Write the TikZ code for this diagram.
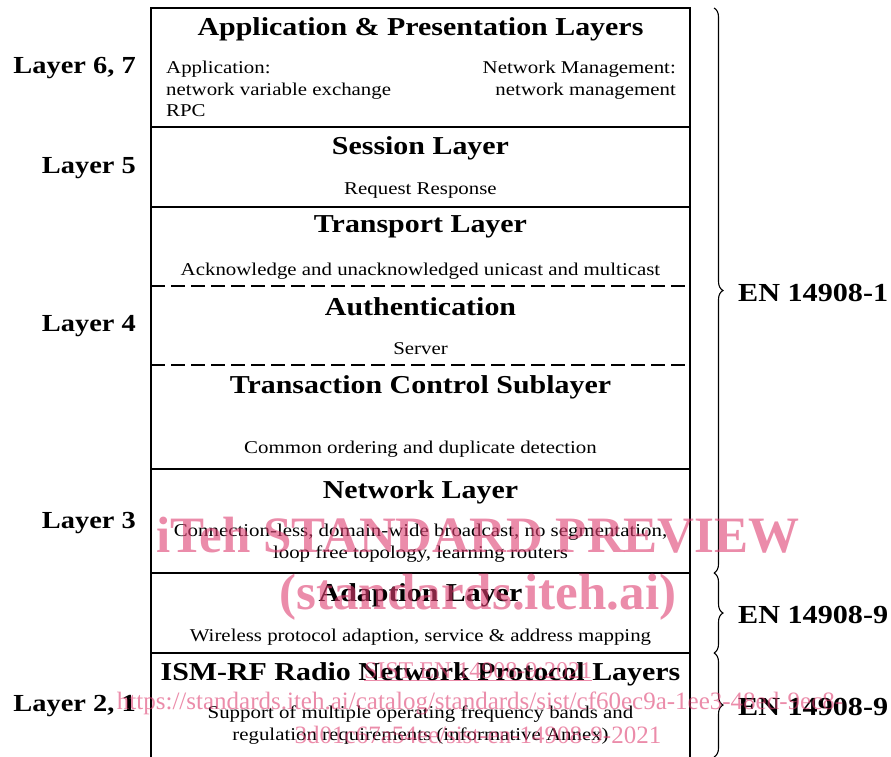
\documentclass[tikz,border=0pt]{standalone}
\usepackage{fontspec}
\setmainfont{Liberation Serif}[FakeStretch=1.16]
\newfontfamily\wmfont{Liberation Serif}
\usepackage{tikz}
\usetikzlibrary{positioning,decorations.pathreplacing}
\definecolor{wmpink}{RGB}{222,63,113}
\tikzset{
    layer/.style={
           rectangle,
           minimum width=539pt,
           inner sep=0pt, outer sep=0pt,
           },
    title/.style={
           font=\bfseries\fontsize{25.8}{28}\selectfont,
           inner sep=0pt,
           },
    desc/.style={
           font=\fontsize{18}{21.5}\selectfont,
           inner sep=0pt,
           align=center,
           },
    side/.style={
           font=\bfseries\fontsize{24.5}{28}\selectfont,
           inner sep=0pt, anchor=east,
           },
    norm/.style={
           font=\bfseries\fontsize{26}{28}\selectfont,
           inner sep=0pt, anchor=west,
           },
    span/.style={
           decorate, decoration={brace, amplitude=9pt},
           line width=1.1pt,
           },
    sep/.style={line width=1.2pt},
    wmark/.style={
           text=wmpink, opacity=0.6, inner sep=0pt,
           },
}

\begin{document}
\begin{tikzpicture}[x=1pt, y=-1pt]
    \useasboundingbox (0,0) rectangle (891,756);

    % the stack of layers (frames only, text is put in below)
    \node[layer, minimum height=119pt, anchor=north] (app) at (420.5,8) {};
    \node[layer, minimum height=80pt,  below=0pt of app]  (sess) {};
    \node[layer, minimum height=79pt,  below=0pt of sess] (trans) {};
    \node[layer, minimum height=79pt,  below=0pt of trans] (auth) {};
    \node[layer, minimum height=104pt, below=0pt of auth] (tcs) {};
    \node[layer, minimum height=104pt, below=0pt of tcs]  (net) {};
    \node[layer, minimum height=80pt,  below=0pt of net]  (adap) {};
    \node[layer, minimum height=106pt, below=0pt of adap] (radio) {};

    % outer frame and the lines between the layers
    \draw[sep] (radio.south west) -- (app.north west) -- (app.north east) -- (radio.south east);
    \draw[sep] (sess.north west) -- (sess.north east);
    \draw[sep] (trans.north west) -- (trans.north east);
    \draw[sep, dash pattern=on 14pt off 6pt] (auth.north west) -- (auth.north east);
    \draw[sep, dash pattern=on 14pt off 6pt] (tcs.north west) -- (tcs.north east);
    \draw[sep] (net.north west) -- (net.north east);
    \draw[sep] (adap.north west) -- (adap.north east);
    \draw[sep] (radio.north west) -- (radio.north east);

    % layer titles
    \node[title] (appT)   at ([yshift=-21pt]app.north)   {Application \& Presentation Layers};
    \node[title] (sessT)  at ([yshift=-21pt]sess.north)  {Session Layer};
    \node[title] (transT) at ([yshift=-20pt]trans.north) {Transport Layer};
    \node[title] (authT)  at ([yshift=-21pt]auth.north)  {Authentication};
    \node[title] (tcsT)   at ([yshift=-22pt]tcs.north)   {Transaction Control Sublayer};
    \node[title] (netT)   at ([yshift=-23pt]net.north)   {Network Layer};
    \node[title] (adapT)  at ([yshift=-22.5pt]adap.north)  {Adaption Layer};
    \node[title] (radioT) at ([yshift=-21.5pt]radio.north) {ISM-RF Radio Network Protocol Layers};

    % layer contents
    \node[desc, align=left, anchor=west] (appL) at (166,89)
        {Application:\\network variable exchange\\RPC};
    \node[desc, align=right, anchor=east] (appR) at (676,80)
        {Network Management:\\network management};
    \node[desc] (sessD)  at ([yshift=16pt]sess.south)  {Request Response};
    \node[desc] (transD) at ([yshift=15pt]trans.south) {Acknowledge and unacknowledged unicast and multicast};
    \node[desc] (authD)  at ([yshift=16pt]auth.south)  {Server};
    \node[desc] (tcsD)   at ([yshift=20pt]tcs.south)   {Common ordering and duplicate detection};
    \node[desc] (netD)   at ([yshift=30pt]net.south)
        {Connection-less, domain-wide broadcast, no segmentation,\\loop free topology, learning routers};
    \node[desc] (adapD)  at ([yshift=16pt]adap.south)  {Wireless protocol adaption, service \& address mapping};
    \node[desc] (radioD) at ([yshift=34pt]radio.south)
        {Support of multiple operating frequency bands and\\regulation requirements (informative Annex)};

    % OSI layer numbers on the left
    \node[side] (l67) at (136,68)  {Layer 6, 7};
    \node[side] (l5)  at (136,168) {Layer 5};
    \node[side] (l4)  at (136,326) {Layer 4};
    \node[side] (l3)  at (136,523) {Layer 3};
    \node[side] (l21) at (136,706) {Layer 2, 1};

    % standard parts on the right
    \draw[span] ([xshift=24pt]app.north east) -- ([xshift=24pt]net.south east)
        coordinate[midway, xshift=9pt] (tip1);
    \draw[span] ([xshift=24pt]adap.north east) -- ([xshift=24pt]adap.south east)
        coordinate[midway, xshift=9pt] (tip2);
    \draw[span] ([xshift=24pt]radio.north east) -- ([xshift=24pt,yshift=2pt]radio.south east)
        coordinate[midway, xshift=9pt] (tip3);
    \node[norm] (en1)  at ([xshift=15pt,yshift=-2pt]tip1) {EN 14908-1};
    \node[norm] (en9a) at ([xshift=15pt,yshift=-2pt]tip2) {EN 14908-9};
    \node[norm] (en9b) at ([xshift=15pt,yshift=-2pt]tip3) {EN 14908-9};

    % preview watermark
    \node[wmark, font=\wmfont\bfseries\fontsize{51}{51}\selectfont] (wm1) at (478,535) {iTeh STANDARD PREVIEW};
    \node[wmark, font=\wmfont\bfseries\fontsize{51}{51}\selectfont] (wm2) at (478,597) {(standards.iteh.ai)};
    \node[wmark, font=\wmfont\fontsize{24}{24}\selectfont] (wm3) at (478,672) {\underline{SIST EN 14908-9:2021}};
    \node[wmark, font=\wmfont\fontsize{25}{25}\selectfont] (wm4) at (480,703)
        {https://standards.iteh.ai/catalog/standards/sist/cf60ec9a-1ee3-48ed-9ec8-};
    \node[wmark, font=\wmfont\fontsize{25}{25}\selectfont] (wm5) at (478,735) {3d01c67a54ee/sist-en-14908-9-2021};
\end{tikzpicture}
\end{document}
